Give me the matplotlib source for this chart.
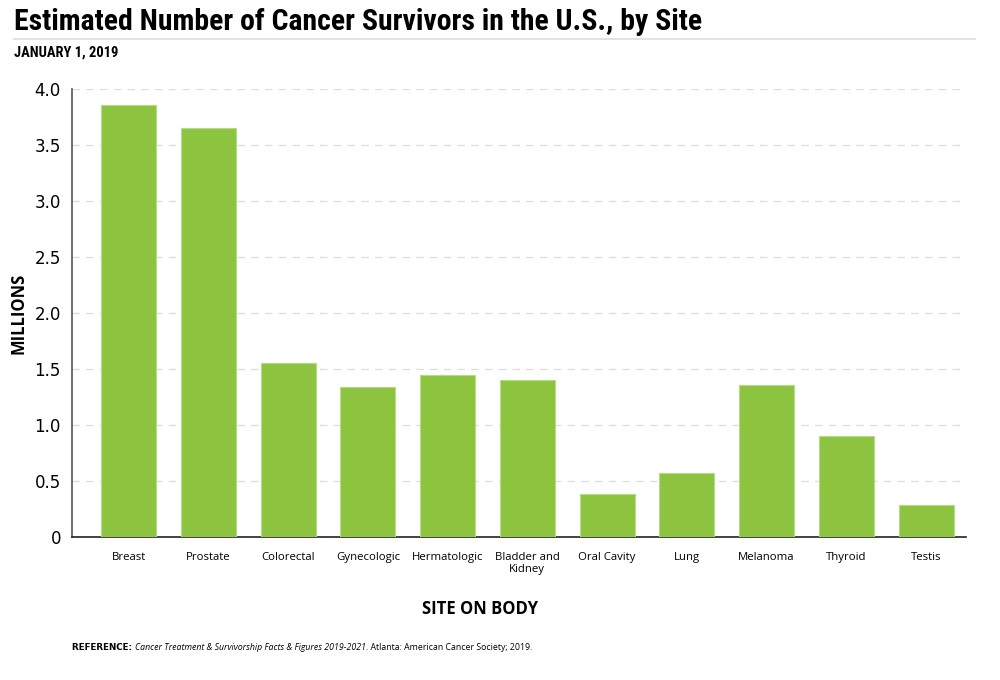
import matplotlib
matplotlib.use("Agg")
from matplotlib import pyplot as plt
from matplotlib import font_manager
from matplotlib.ticker import FuncFormatter

sites = ['Breast', 'Prostate', 'Colorectal', 'Gynecologic', 'Hermatologic',
         'Bladder and\nKidney', 'Oral Cavity', 'Lung', 'Melanoma', 'Thyroid', 'Testis']
survivors = [3.86, 3.65, 1.55, 1.34, 1.45, 1.40, 0.38, 0.57, 1.36, 0.90, 0.29]
y_ticks = [0, 0.5, 1.0, 1.5, 2.0, 2.5, 3.0, 3.5, 4.0]

green = '#8dc43f'

# a condensed face with a real bold file, else Lato
bold_names = set()
for f in font_manager.fontManager.ttflist:
    wt = f.weight if isinstance(f.weight, int) else {'bold': 700}.get(f.weight, 400)
    if wt >= 700 and f.style == 'normal':
        bold_names.add(f.name)
cond = 'Lato'
for n in ['Source Sans Pro', 'Roboto Condensed', 'Fira Sans Condensed', 'PT Sans Narrow',
          'Archivo Narrow', 'Asap Condensed', 'IBM Plex Sans Condensed', 'Encode Sans Condensed',
          'Barlow Semi Condensed', 'Liberation Sans Narrow', 'Open Sans Condensed']:
    if n in bold_names:
        cond = n
        break

fig = plt.figure(figsize=(10, 6.8), dpi=100)
ax = fig.add_axes([0.072, 0.2103, 0.894, 0.659])

ax.bar(range(len(sites)), survivors, width=0.69, color=green, edgecolor='#b5dc85', linewidth=0.8, zorder=3)

ax.set_xlim(-0.71, 10.5)
ax.set_ylim(0, 4.0)
ax.set_yticks(y_ticks)
ax.yaxis.set_major_formatter(FuncFormatter(lambda v, p: '0' if v == 0 else '%.1f' % v))
ax.grid(axis='y', color='#dddddd', linestyle=(0, (6, 5)), linewidth=0.9, zorder=0)
ax.tick_params(axis='y', length=0, labelsize=12, pad=8)
ax.tick_params(axis='x', length=0, labelsize=8.2, pad=11)
ax.set_xticks(range(len(sites)))
ax.set_xticklabels(sites, fontfamily='Open Sans', linespacing=1.15)

for s in ['top', 'right']:
    ax.spines[s].set_visible(False)
ax.spines['left'].set_color('#555555')
ax.spines['bottom'].set_color('#222222')
ax.spines['left'].set_linewidth(1.2)
ax.spines['bottom'].set_linewidth(1.2)

ax.set_ylabel('MILLIONS', fontsize=12, fontweight='bold', family='Open Sans')
ax.yaxis.set_label_coords(-0.05, 0.5)
fig.text(0.48, 0.105, 'SITE ON BODY', fontsize=12, fontweight='bold', family='Open Sans', ha='center', va='center')

title = fig.text(0.014, 0.967, 'Estimated Number of Cancer Survivors in the U.S., by Site',
                 fontsize=20, fontweight='bold', family=cond, color='black', ha='left', va='center')
sub = fig.text(0.014, 0.923, 'JANUARY 1, 2019', fontsize=10, fontweight='bold', family=cond,
               color='black', ha='left', va='center')
fig.canvas.draw()
# squeeze to the reference widths
w = title.get_window_extent().width
title.set_fontsize(min(23, 20 * 686 / w))
w = sub.get_window_extent().width
sub.set_fontsize(min(11, 10 * 104 / w))
fig.add_artist(plt.Line2D([0.014, 0.975], [0.943, 0.943], color='#e2e2e2', linewidth=1.5))

t1 = fig.text(0.072, 0.048, 'REFERENCE: ', fontsize=6.3, fontweight='bold', family='DejaVu Sans', ha='left', va='center')
fig.canvas.draw()
x1 = t1.get_window_extent().x1 / fig.bbox.width
t2 = fig.text(x1, 0.048, 'Cancer Treatment & Survivorship Facts & Figures 2019-2021',
              fontsize=6.3, style='italic', family='Open Sans', ha='left', va='center')
fig.canvas.draw()
x2 = t2.get_window_extent().x1 / fig.bbox.width
fig.text(x2, 0.048, '. Atlanta: American Cancer Society; 2019.', fontsize=6.3, family='Open Sans', ha='left', va='center')

fig.savefig('out.png', dpi=100)
